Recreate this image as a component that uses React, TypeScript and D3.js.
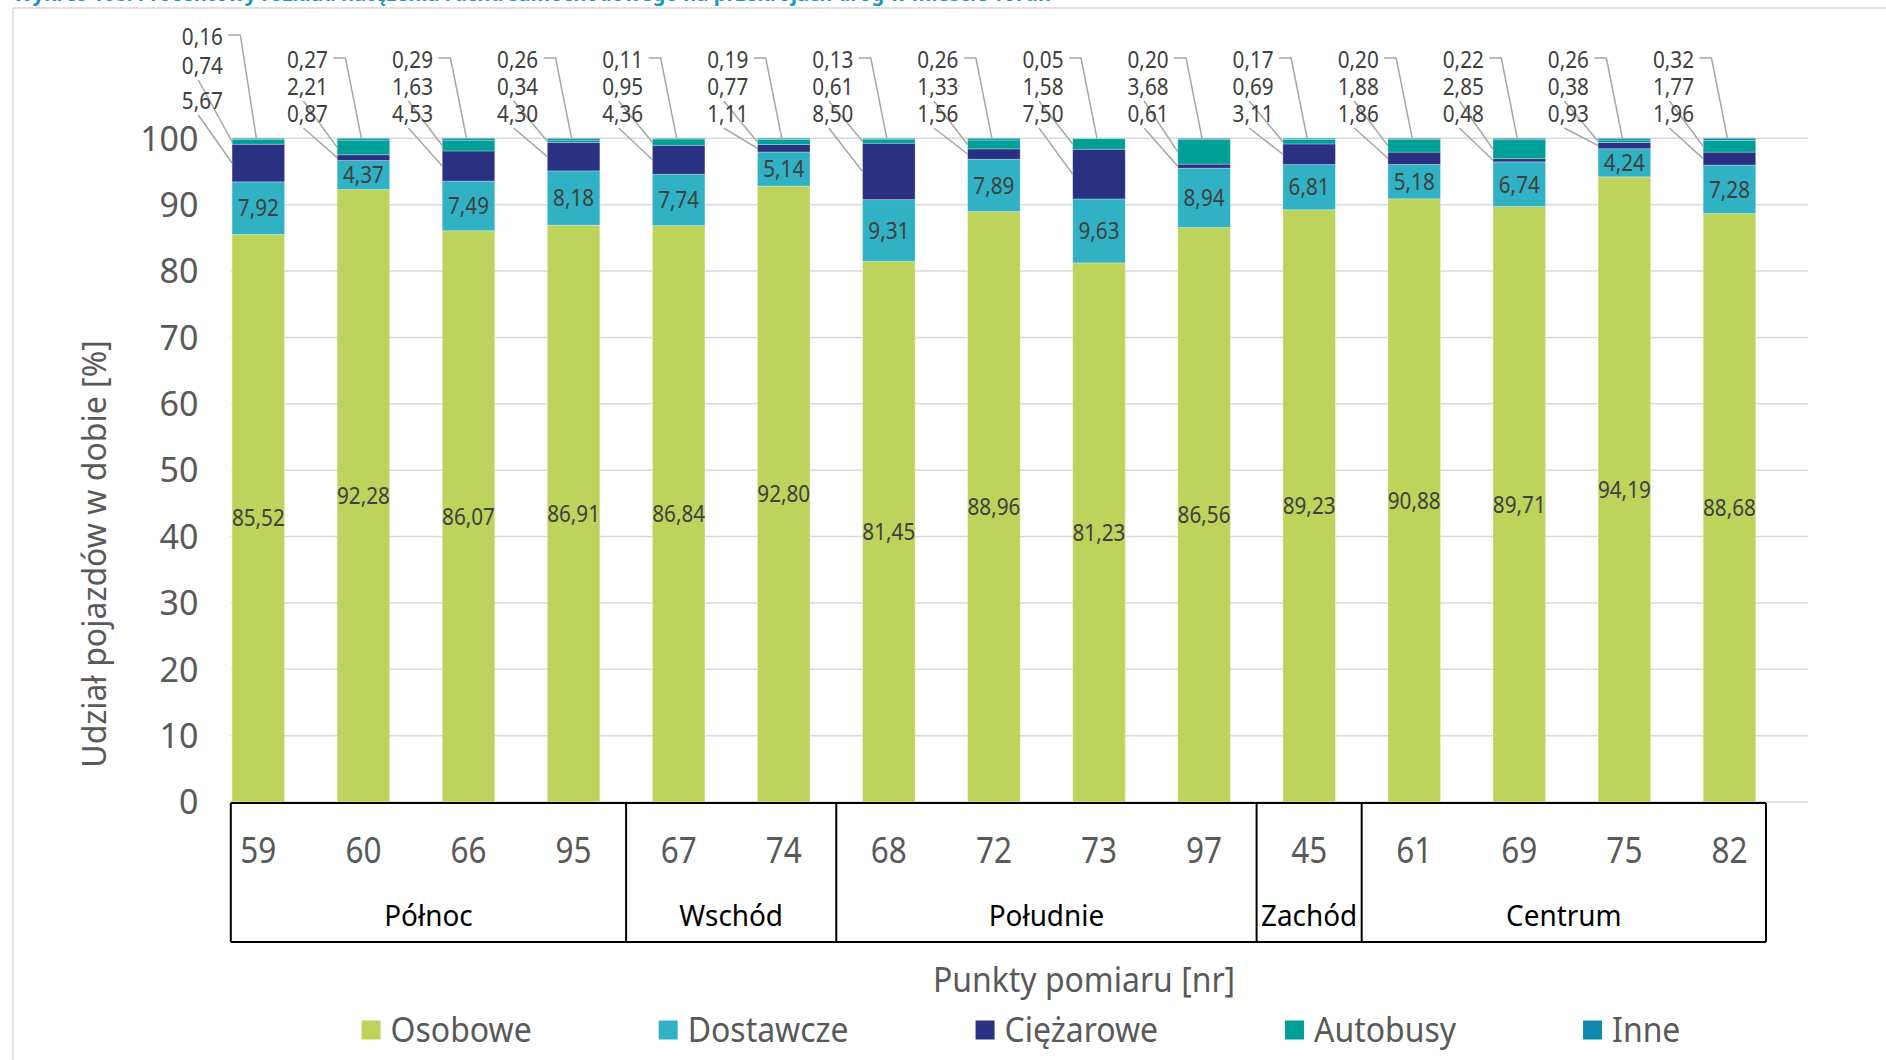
import React, { useEffect, useRef } from "react";
import * as d3 from "d3";

const categories = ["59", "60", "66", "95", "67", "74", "68", "72", "73", "97", "45", "61", "69", "75", "82"];
const regionOf = ["Północ", "Północ", "Północ", "Północ", "Wschód", "Wschód", "Południe", "Południe", "Południe", "Południe", "Zachód", "Centrum", "Centrum", "Centrum", "Centrum"];
const regions = ["Północ", "Wschód", "Południe", "Zachód", "Centrum"];

const osobowe = [85.52, 92.28, 86.07, 86.91, 86.84, 92.8, 81.45, 88.96, 81.23, 86.56, 89.23, 90.88, 89.71, 94.19, 88.68];
const dostawcze = [7.92, 4.37, 7.49, 8.18, 7.74, 5.14, 9.31, 7.89, 9.63, 8.94, 6.81, 5.18, 6.74, 4.24, 7.28];
const ciezarowe = [5.67, 0.87, 4.53, 4.3, 4.36, 1.11, 8.5, 1.56, 7.5, 0.61, 3.11, 1.86, 0.48, 0.93, 1.96];
const autobusy = [0.74, 2.21, 1.63, 0.34, 0.95, 0.77, 0.61, 1.33, 1.58, 3.68, 0.69, 1.88, 2.85, 0.38, 1.77];
const inne = [0.16, 0.27, 0.29, 0.26, 0.11, 0.19, 0.13, 0.26, 0.05, 0.2, 0.17, 0.2, 0.22, 0.26, 0.32];

const seriesNames = ["Osobowe", "Dostawcze", "Ciężarowe", "Autobusy", "Inne"];
const seriesValues = [osobowe, dostawcze, ciezarowe, autobusy, inne];
const seriesColors = ["#BDD35B", "#30B2C4", "#2B3182", "#00A096", "#1189AF"];

const yTicks = [0, 10, 20, 30, 40, 50, 60, 70, 80, 90, 100];

const titleText = "Wykres 108. Procentowy rozkład natężenia ruchu samochodowego na przekrojach dróg w mieście Toruń";
const yTitle = "Udział pojazdów w dobie [%]";
const xTitle = "Punkty pomiaru [nr]";

const FONT = "'Noto Sans', sans-serif";
const fmt = (v: number) => d3.format(".2f")(v).replace(".", ",");

type Sel = d3.Selection<any, any, any, any>;

function addText(
  parent: Sel,
  x: number,
  y: number,
  str: string,
  size: number,
  opts: { anchor?: string; fill?: string; sx?: number } = {}
) {
  const sx = opts.sx ?? 1;
  const g = parent.append("g").attr("transform", `translate(${x},${y}) scale(${sx},1)`);
  const t = g
    .append("text")
    .attr("dy", "0.36em")
    .attr("text-anchor", opts.anchor ?? "middle")
    .attr("font-family", FONT)
    .attr("font-size", size)
    .attr("fill", opts.fill ?? "#595959")
    .text(str);
  return { g, t, sx };
}

export default function App() {
  const ref = useRef<SVGSVGElement>(null);

  useEffect(() => {
    const svg = d3.select(ref.current);
    svg.selectAll("*").remove();
    const W = 1886, H = 1060;

    svg.append("rect").attr("width", W).attr("height", H).attr("fill", "#fff");

    // title (mostly cut off at the top, as in the source)
    svg.append("text").attr("x", 13).attr("y", 1)
      .attr("font-family", FONT).attr("font-size", 19).attr("font-weight", 700)
      .attr("fill", "#1996BF").attr("textLength", 1038).attr("lengthAdjust", "spacingAndGlyphs")
      .text(titleText);

    // chart frame
    svg.append("line").attr("x1", 13).attr("x2", W).attr("y1", 8).attr("y2", 8)
      .attr("stroke", "#d9d9d9").attr("stroke-width", 1.5);
    svg.append("line").attr("x1", 13).attr("x2", 13).attr("y1", 8).attr("y2", H)
      .attr("stroke", "#d9d9d9").attr("stroke-width", 1.5);

    const x0 = 205.8, x1 = 1782;
    const x = d3.scaleBand<string>().domain(categories).range([x0, x1]).paddingInner(0.5).paddingOuter(0.25);
    const y = d3.scaleLinear().domain([0, 100]).range([802, 138.3]);
    const gridL = x0 + 25, gridR = x1 + 26;
    const tickRight = 198.5;

    // gridlines
    svg.append("g").selectAll("line").data(yTicks).join("line")
      .attr("x1", gridL).attr("x2", gridR)
      .attr("y1", (d) => y(d)).attr("y2", (d) => y(d))
      .attr("stroke", "#d9d9d9").attr("stroke-width", 1.5);

    // y tick labels
    const yl = svg.append("g");
    yTicks.forEach((t) => addText(yl, tickRight, y(t), String(t), 34, { anchor: "end" }));

    // y title
    svg.append("text").attr("transform", "translate(94,554) rotate(-90)")
      .attr("text-anchor", "middle").attr("dy", "0.36em")
      .attr("font-family", FONT).attr("font-size", 32).attr("fill", "#595959").text(yTitle);

    // stacked data
    const rows = categories.map((c, i) => {
      const r: any = { cat: c };
      seriesNames.forEach((s, k) => (r[s] = seriesValues[k][i]));
      return r;
    });
    const stacked = d3.stack<any>().keys(seriesNames)(rows);

    const bw = x.bandwidth();
    stacked.forEach((layer, k) => {
      svg.append("g").selectAll("rect").data(layer).join("rect")
        .attr("x", (d) => x(d.data.cat)!)
        .attr("width", bw)
        .attr("y", (d) => y(d[1]))
        .attr("height", (d) => Math.max(0, y(d[0]) - y(d[1])))
        .attr("fill", seriesColors[k])
        .attr("stroke", "#ffffff").attr("stroke-opacity", 0.35).attr("stroke-width", 0.8);
    });

    // labels inside bars (Osobowe, Dostawcze)
    const inLabels = svg.append("g");
    [0, 1].forEach((k) => {
      stacked[k].forEach((d) => {
        addText(inLabels, x(d.data.cat)! + bw / 2, y((d[0] + d[1]) / 2), fmt(d[1] - d[0]), 23, {
          fill: "#404040",
          sx: 0.9,
        });
      });
    });

    // outside labels with leader lines (Ciężarowe bottom row, Autobusy middle, Inne top)
    const rowY = [114, 87, 60];
    const rowYRaised = [101, 66, 37]; // used when the label column would collide with the y tick labels
    const leaders = svg.append("g").attr("fill", "none").attr("stroke", "#a6a6a6").attr("stroke-width", 1.5);
    const outLabels = svg.append("g");
    categories.forEach((c, i) => {
      const cx = x(c)! + bw / 2;
      const left = x(c)!;
      const lx = cx - 56;
      const collides = lx - 24 < tickRight + 8;
      const rowsUsed = collides ? rowYRaised : rowY;
      [2, 3, 4].forEach((k, r) => {
        const seg = stacked[k][i];
        const ly = rowsUsed[r];
        addText(outLabels, lx, ly, fmt(seg[1] - seg[0]), 23, { fill: "#404040", sx: 0.9 });
        if (k === 4) {
          leaders.append("path").attr("d", d3.line()([[lx + 26, ly - 2], [lx + 38, ly - 2], [cx - 2, y(seg[1])]]));
        } else {
          leaders.append("path").attr("d", d3.line()([[lx - 4, ly + 14], [left, y((seg[0] + seg[1]) / 2)]]));
        }
      });
    });

    // multi-level category box
    const boxTop = 803, boxBot = 942;
    const boxL = gridL, boxR = x1 - 16;
    const axisG = svg.append("g").attr("stroke", "#000").attr("stroke-width", 2).attr("fill", "none");
    axisG.append("line").attr("x1", boxL).attr("x2", boxR).attr("y1", boxTop).attr("y2", boxTop);
    axisG.append("line").attr("x1", boxL).attr("x2", boxR).attr("y1", boxBot).attr("y2", boxBot);
    const bounds: number[] = [boxL];
    regions.forEach((reg, gi) => {
      if (gi === regions.length - 1) return;
      const lastIdx = regionOf.lastIndexOf(reg);
      const a = x(categories[lastIdx])! + bw / 2;
      const b = x(categories[lastIdx + 1])! + bw / 2;
      bounds.push((a + b) / 2);
    });
    bounds.push(boxR);
    bounds.forEach((bx) => {
      axisG.append("line").attr("x1", bx).attr("x2", bx).attr("y1", boxTop).attr("y2", boxBot);
    });

    const catG = svg.append("g");
    categories.forEach((c) => addText(catG, x(c)! + bw / 2, 850, c, 36, { sx: 0.875 }));

    const regG = svg.append("g");
    regions.forEach((reg, gi) =>
      addText(regG, (bounds[gi] + bounds[gi + 1]) / 2, 915, reg, 30, { fill: "#000", sx: 0.93 })
    );

    // x title
    addText(svg, 1084, 980, xTitle, 34, { sx: 0.94 });

    // legend
    const legend = svg.append("g");
    const ly = 1030, sw = 19, gapText = 10, gapEntry = 127;
    const entries = seriesNames.map((name, k) => {
      const g = legend.append("g");
      g.append("rect").attr("width", sw).attr("height", sw).attr("y", ly - sw / 2).attr("fill", seriesColors[k]);
      const lt = addText(g, sw + gapText, ly, name, 34, { anchor: "start", sx: 0.94 });
      const w = (lt.t.node() as SVGTextElement).getComputedTextLength() * lt.sx;
      return { g, width: sw + gapText + w };
    });
    const total = d3.sum(entries, (e) => e.width) + gapEntry * (entries.length - 1);
    let cur = 1021 - total / 2;
    entries.forEach((e) => {
      e.g.attr("transform", `translate(${cur},0)`);
      cur += e.width + gapEntry;
    });
  }, []);

  return (
    <svg
      ref={ref}
      width={1886}
      height={1060}
      style={{ position: "fixed", left: 0, top: 0, display: "block" }}
    />
  );
}
